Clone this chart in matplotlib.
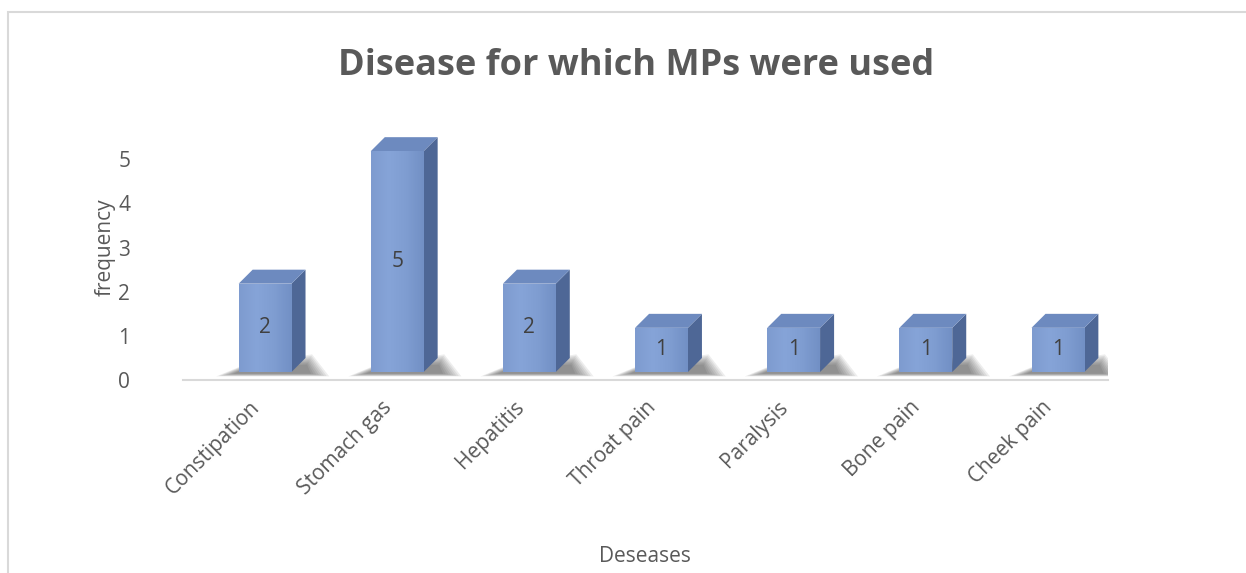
import numpy as np
import matplotlib
matplotlib.use('Agg')
import matplotlib.pyplot as plt
from matplotlib.patches import Rectangle, Polygon
from matplotlib.colors import LinearSegmentedColormap
from matplotlib.transforms import ScaledTranslation

diseases = ['Constipation', 'Stomach gas', 'Hepatitis', 'Throat pain',
            'Paralysis', 'Bone pain', 'Cheek pain']
frequency = [2, 5, 2, 1, 1, 1, 1]
y_ticks = [0, 1, 2, 3, 4, 5]

plt.rcParams['font.family'] = ['Open Sans', 'DejaVu Sans']
grey = '#595959'

fig = plt.figure(figsize=(12.46, 5.73), dpi=100)
ax = fig.add_axes([183 / 1246, 1 - 380 / 573, 925 / 1246, 265 / 573])
ax.set_xlim(-0.5, len(diseases) - 0.5)
ax.set_ylim(0, 6)

# chart border (light grey frame)
fig.patches.append(Rectangle((8 / 1246, -0.05), 1.2, 1 - 12 / 573 + 0.05,
                             transform=fig.transFigure, fill=False,
                             edgecolor='#d9d9d9', linewidth=1.5))

# 3D look: front face offset and depth
front = ax.transData + ScaledTranslation(0.16, 0.08, fig.dpi_scale_trans)
w = 0.40
dx = 14 / 132.0
dy = 14 / 44.2
face_cmap = LinearSegmentedColormap.from_list(
    'face', ['#7e9bcf', '#86a4d8', '#7f9dd1', '#7290c5'])

for i, v in enumerate(frequency):
    x0, x1 = i - w / 2, i + w / 2
    # soft floor shadow
    for k in range(8):
        s = 1 - k * 0.11
        shadow = Polygon([(x0 - 0.17 * s, -0.02 - 0.08 * s),
                          (x1 + dx + 0.18 * s, -0.02 - 0.08 * s),
                          (x1 + dx + 0.05 * s, 0.1 + 0.3 * s),
                          (x0 + 0.05, 0.05 + 0.12 * s)],
                         closed=True, transform=front, facecolor='#202020',
                         edgecolor='none', alpha=0.08, zorder=1)
        ax.add_patch(shadow)
    # front face
    face = Rectangle((x0, 0), w, v, transform=front, facecolor='#7f9dd1',
                     edgecolor='none', zorder=3)
    ax.add_patch(face)
    grad = np.linspace(0, 1, 64).reshape(1, -1)
    im = ax.imshow(grad, cmap=face_cmap, extent=(x0, x1, 0, v), aspect='auto',
                   zorder=3.1, interpolation='bicubic')
    im.set_transform(front)
    im.set_clip_path(face)
    # side face
    side = Polygon([(x1, 0), (x1 + dx, dy), (x1 + dx, v + dy), (x1, v)],
                   closed=True, transform=front, facecolor='#4e6796',
                   edgecolor='none', zorder=3)
    ax.add_patch(side)
    # top face
    top = Polygon([(x0, v), (x0 + dx, v + dy), (x1 + dx, v + dy), (x1, v)],
                  closed=True, transform=front, facecolor='#6d8abf',
                  edgecolor='none', zorder=3)
    ax.add_patch(top)
    ax.text(i, v / 2, str(v), transform=front, ha='center', va='center',
            fontsize=15, color='#404040', zorder=5)

ax.set_xlim(-0.5, len(diseases) - 0.5)
ax.set_ylim(0, 6)

for s in ['top', 'right', 'left']:
    ax.spines[s].set_visible(False)
ax.spines['bottom'].set_color('#d9d9d9')
ax.spines['bottom'].set_linewidth(1.5)
ax.spines['bottom'].set_zorder(0)

ax.set_yticks(y_ticks)
ax.set_yticklabels([str(t) for t in y_ticks], fontsize=15, color=grey)
ax.set_xticks(range(len(diseases)))
ax.set_xticklabels(diseases, rotation=45, ha='right', rotation_mode='anchor',
                   fontsize=15, color=grey)
ax.tick_params(length=0)
ax.tick_params(axis='y', pad=38)
ax.tick_params(axis='x', pad=12)

ax.set_ylabel('frequency', fontsize=15, color=grey, labelpad=2)
fig.text(645 / 1246, 1 - 557 / 573, 'Deseases', ha='center', va='center',
         fontsize=15, color=grey)
fig.text(636 / 1246, 1 - 66 / 573, 'Disease for which MPs were used', ha='center',
         va='center', fontsize=26, fontweight='bold', color=grey)

fig.savefig('out.png', dpi=100)
